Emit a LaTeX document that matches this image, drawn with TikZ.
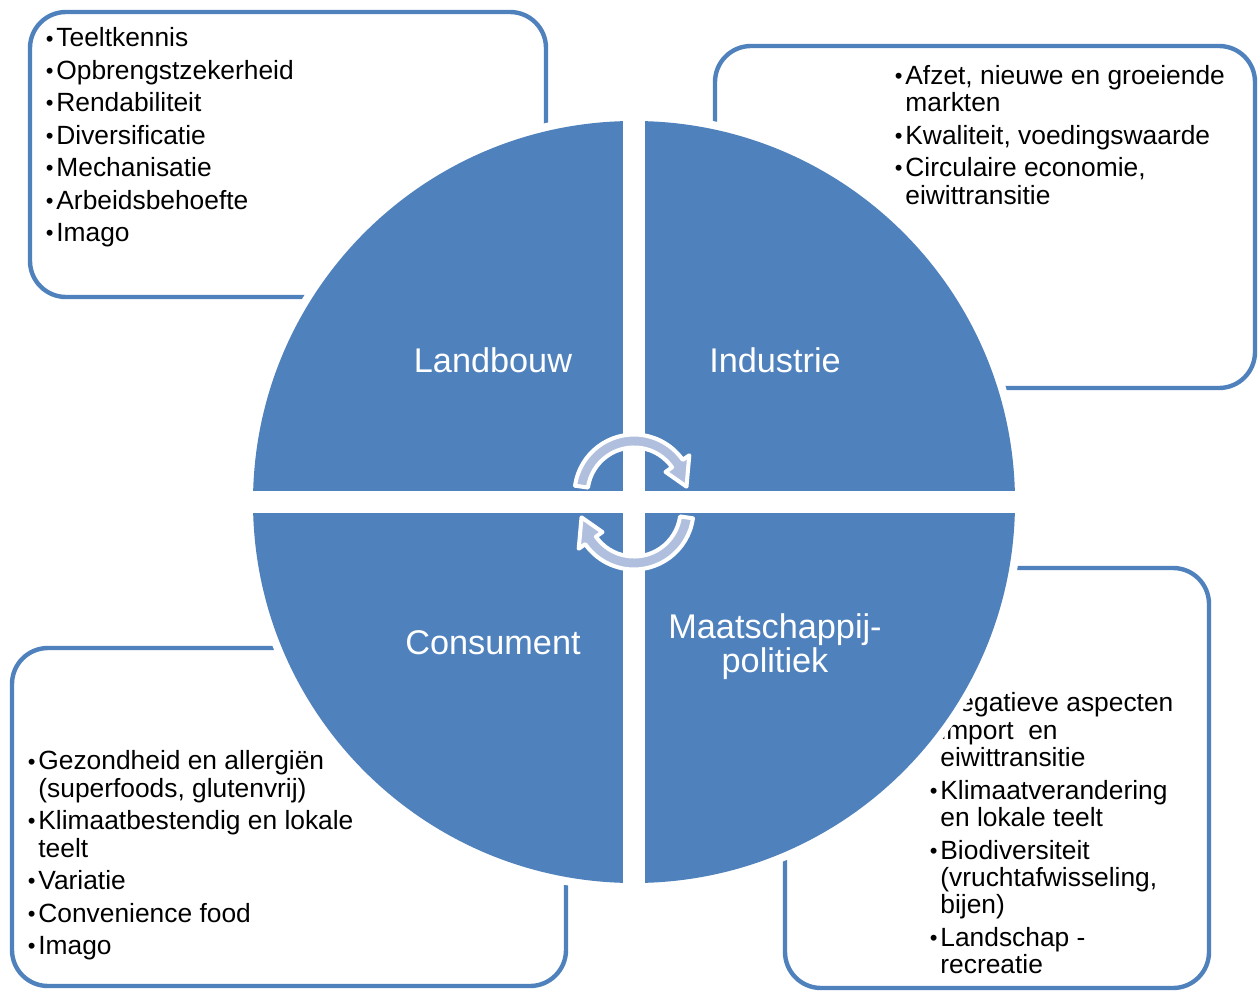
\documentclass[tikz,border=0pt]{standalone}
\usepackage{fontspec}
\setmainfont{Liberation Sans}
\usetikzlibrary{calc}
\definecolor{quadblue}{HTML}{4F81BD}
\definecolor{arrowgray}{HTML}{AFBFDD}
\newcommand{\bul}{\makebox[6pt][l]{\raisebox{0.5pt}{\fontsize{12.5}{12.5}\selectfont\textbullet}}}
\newcommand{\hng}{\hspace*{6pt}}
\tikzset{
	box/.style={draw=quadblue, line width=2.5pt, rounded corners=0.72cm, fill=white},
	itemtext/.style={anchor=north west, inner sep=0pt, align=left, font=\fontsize{15}{15.6}\selectfont},
	quadlabel/.style={text=white, align=center, inner sep=0pt, font=\fontsize{19.5}{19.3}\selectfont},
	cyclearrow/.style={fill=arrowgray, draw=white, line width=2.3pt, line join=round}
}

\begin{document}
\begin{tikzpicture}
			%%%%% START %%%%%
			\useasboundingbox (0, 0) rectangle (25.18, -19.84);
			
			% boxes behind the circle
			\draw[box] (0.60, -0.24) rectangle (10.92, -5.94);
			\draw[box] (14.30, -0.92) rectangle (25.10, -7.76);
			\draw[box] (15.70, -11.36) rectangle (24.18, -19.76);
			\draw[box] (0.24, -12.96) rectangle (11.32, -19.72);
			
			\node[itemtext] (landbouwlist) at (0.91, -0.55) {\bul Teeltkennis\\[2.85pt]
				\bul Opbrengstzekerheid\\[2.85pt]
				\bul Rendabiliteit\\[2.85pt]
				\bul Diversificatie\\[2.85pt]
				\bul Mechanisatie\\[2.85pt]
				\bul Arbeidsbehoefte\\[2.85pt]
				\bul Imago};
			
			\node[itemtext] (industrielist) at (17.89, -1.30) {\bul Afzet, nieuwe en groeiende\\
				\hng markten\\[2.85pt]
				\bul Kwaliteit, voedingswaarde\\[2.85pt]
				\bul Circulaire economie,\\
				\hng eiwittransitie};
			
			\node[itemtext] (maatschappijlist) at (18.59, -13.85) {\bul Negatieve aspecten\\
				\hng import\ \ en\\
				\hng eiwittransitie\\[2.85pt]
				\bul Klimaatverandering\\
				\hng en lokale teelt\\[2.85pt]
				\bul Biodiversiteit\\
				\hng (vruchtafwisseling,\\
				\hng bijen)\\[2.85pt]
				\bul Landschap -\\
				\hng recreatie};
			
			\node[itemtext] (consumentlist) at (0.55, -15.01) {\bul Gezondheid en allergiën\\
				\hng (superfoods, glutenvrij)\\[2.85pt]
				\bul Klimaatbestendig en lokale\\
				\hng teelt\\[2.85pt]
				\bul Variatie\\[2.85pt]
				\bul Convenience food\\[2.85pt]
				\bul Imago};
			
			% circle in four quarters
			\fill[white] (12.68, -10.04) circle (7.78);
			\fill[quadblue] (12.68, -10.04) circle (7.62);
			\fill[white] (12.46, -2.2) rectangle (12.90, -17.9);
			\fill[white] (4.9, -9.82) rectangle (20.5, -10.26);
			
			\node[quadlabel] (landbouw) at (9.86, -7.20) {Landbouw};
			\node[quadlabel] (industrie) at (15.50, -7.20) {Industrie};
			\node[quadlabel] (consument) at (9.86, -12.86) {Consument};
			\node[quadlabel] (maatschappij) at (15.50, -12.93) {Maatschappij-\\politiek};
			
			% cycle arrows
			\coordinate (topc) at (12.68, -9.88);
			\coordinate (botc) at (12.68, -10.20);
			\draw[cyclearrow] ($(topc)+(172:1.19)$) arc (172:35:1.19) -- ($(topc)+(35:1.35)$) -- ($(topc)+(8:1.06)$)
				-- ($(topc)+(35:0.77)$) -- ($(topc)+(35:0.93)$) arc (35:172:0.93) -- cycle;
			\draw[cyclearrow] ($(botc)+(-8:1.19)$) arc (-8:-145:1.19) -- ($(botc)+(-145:1.35)$) -- ($(botc)+(-172:1.06)$)
				-- ($(botc)+(-145:0.77)$) -- ($(botc)+(-145:0.93)$) arc (-145:-8:0.93) -- cycle;
			
			%%%%% END %%%%%
\end{tikzpicture}
\end{document}
